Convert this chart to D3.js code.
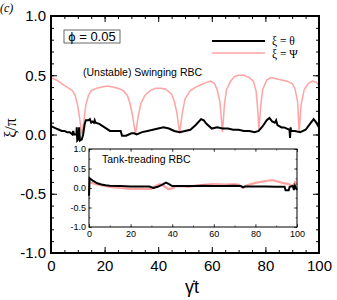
<!DOCTYPE html>
<html>
<head>
<meta charset="utf-8">
<script src="https://cdn.jsdelivr.net/npm/d3@7"></script>
<style>
  body { margin: 0; background: #fff; }
  svg text { font-family: "Liberation Sans", Arial, sans-serif; fill: #000; }
  .domain { display: none; }
  .tick line { stroke: #000; }
</style>
</head>
<body>
<div id="chart"></div>
<script>
var svgWidth = 337;
var svgHeight = 300;

// main panel: xi = theta (black), xi = Psi (pink)
var thetaT = [0, 1, 2, 3, 4, 5, 6, 7, 8, 8.3, 8.6, 9.5, 9.6, 9.8, 10.2, 10.5, 10.8, 11.5, 12, 12.5, 13, 14, 14.5, 15, 15.5, 16, 16.3, 16.6, 18, 20, 22, 24, 26, 26.5, 28, 29, 30, 31, 32, 34, 36, 38, 40, 42, 44, 46, 48, 50, 52, 54, 56, 57, 58, 60, 62, 64, 66, 68, 70, 72, 74, 76, 77.5, 79, 80.5, 81.5, 82.5, 83.5, 84, 84.5, 86, 87, 88, 89, 89.2, 89.4, 89.6, 91, 93, 95, 97, 98, 99, 100];
var thetaV = [0.07, 0.06, 0.05, 0.04, 0.03, 0.03, 0.02, 0.02, 0.0, 0.03, 0.0, 0.0, 0.06, -0.05, -0.04, 0.06, -0.05, -0.04, 0.0, 0.08, 0.12, 0.12, 0.13, 0.1, 0.11, 0.1, 0.12, 0.1, 0.09, 0.06, 0.03, 0.03, 0.03, -0.01, -0.01, 0.0, 0.01, 0.01, 0.0, 0.02, 0.03, 0.04, 0.05, 0.06, 0.05, 0.03, 0.02, 0.03, 0.04, 0.08, 0.13, 0.12, 0.09, 0.05, 0.06, 0.05, 0.05, 0.04, 0.04, 0.03, 0.03, 0.02, 0.03, 0.07, 0.12, 0.14, 0.11, 0.1, 0.12, 0.08, 0.06, 0.06, 0.05, 0.04, -0.03, 0.06, 0.03, 0.03, 0.02, 0.04, 0.1, 0.13, 0.1, 0.06];

var psiT = [0, 2, 4, 6, 8, 9, 10, 10.8, 11.5, 12.3, 13, 14, 15, 17, 19, 21, 23, 25, 27, 28.5, 29.5, 30.5, 31.5, 32.5, 33.5, 35, 37, 39, 41, 43, 45, 46, 47, 48, 49, 50, 52, 54, 56, 58, 59.5, 61, 62, 63, 64, 64.7, 65.5, 67, 68.5, 70, 72, 74, 75.5, 76.5, 77, 77.6, 78.3, 79, 80.5, 82, 84, 86, 88, 90, 91, 92, 92.6, 93.3, 94.5, 96, 97.5, 99, 100];
var psiV = [0.48, 0.46, 0.43, 0.4, 0.37, 0.33, 0.24, 0.12, 0.0, 0.12, 0.25, 0.33, 0.37, 0.39, 0.4, 0.41, 0.4, 0.39, 0.37, 0.33, 0.26, 0.15, 0.0, 0.15, 0.26, 0.33, 0.37, 0.39, 0.39, 0.38, 0.34, 0.28, 0.18, 0.01, 0.18, 0.3, 0.37, 0.4, 0.42, 0.44, 0.45, 0.43, 0.38, 0.28, 0.02, 0.25, 0.38, 0.45, 0.49, 0.5, 0.5, 0.48, 0.45, 0.37, 0.25, 0.04, 0.25, 0.38, 0.46, 0.48, 0.47, 0.46, 0.45, 0.43, 0.39, 0.28, 0.02, 0.25, 0.38, 0.43, 0.45, 0.44, 0.41];

// inset: tank-treading
var inThetaT = [0, 0.3, 2, 4, 6, 8, 10, 15, 20, 25, 29, 31, 33, 35, 37, 38.5, 40, 45, 50, 55, 60, 65, 70, 73, 74, 75, 80, 85, 90, 94, 94.5, 96, 96.5, 98, 98.5, 99, 100];
var inThetaV = [-0.2, 0.25, 0.18, 0.12, 0.09, 0.07, 0.06, 0.05, 0.04, 0.04, 0.04, 0.0, 0.03, 0.08, 0.14, 0.1, 0.05, 0.05, 0.05, 0.06, 0.05, 0.05, 0.06, 0.05, 0.02, 0.04, 0.04, 0.04, 0.03, 0.03, -0.06, -0.06, 0.03, 0.05, -0.05, 0.06, -0.05];
var inPsiT = [0, 2, 5, 10, 15, 20, 25, 30, 32, 34, 36, 38, 40, 42, 45, 48, 50, 55, 60, 65, 70, 72, 74, 76, 80, 85, 88, 90, 93, 96, 98, 99, 100];
var inPsiV = [0.15, 0.12, 0.08, 0.03, 0.0, -0.02, -0.02, -0.02, 0.05, 0.1, 0.05, -0.03, -0.01, 0.05, 0.05, 0.03, 0.05, 0.08, 0.1, 0.09, 0.1, 0.08, 0.0, 0.07, 0.13, 0.18, 0.2, 0.18, 0.13, 0.1, 0.05, 0.15, 0.08];

var xMajor = [0, 20, 40, 60, 80, 100];
var yMajor = [-1.0, -0.5, 0.0, 0.5, 1.0];

var svg = d3.select("#chart")
    .append("svg")
    .attr("width", svgWidth)
    .attr("height", svgHeight);

var pink = "#ffa3a3";

function zip(ts, vs) {
    return ts.map(function(t, i) { return [t, vs[i]]; });
}

// plain hyphen for negatives, like the original plot
var fmtY = function(d) { return d3.format(".1f")(d).replace("\u2212", "-"); };

// draws a framed panel with inward ticks on all four sides
function drawFrame(x, y, opt) {
    var g = svg.append("g");
    var xMinor = d3.range(0, 100.01, opt.xMinorStep);
    var yMinor = d3.range(-1, 1.001, opt.yMinorStep).map(function(v) { return Math.round(v * 100) / 100; });
    var x0 = x.range()[0], x1 = x.range()[1];
    var y0 = y.range()[0], y1 = y.range()[1];

    g.append("g").attr("transform", "translate(0," + y0 + ")")
        .call(d3.axisBottom(x).tickValues(xMinor).tickSize(-opt.minor).tickFormat(""));
    g.append("g").attr("transform", "translate(0," + y1 + ")")
        .call(d3.axisTop(x).tickValues(xMinor).tickSize(-opt.minor).tickFormat(""));
    g.append("g").attr("transform", "translate(" + x0 + ",0)")
        .call(d3.axisLeft(y).tickValues(yMinor).tickSize(-opt.minor).tickFormat(""));
    g.append("g").attr("transform", "translate(" + x1 + ",0)")
        .call(d3.axisRight(y).tickValues(yMinor).tickSize(-opt.minor).tickFormat(""));

    var bx = g.append("g").attr("transform", "translate(0," + y0 + ")")
        .call(d3.axisBottom(x).tickValues(xMajor).tickSize(-opt.major).tickPadding(opt.padX).tickFormat(d3.format("d")));
    bx.selectAll("text").style("font-size", opt.font + "px");
    g.append("g").attr("transform", "translate(0," + y1 + ")")
        .call(d3.axisTop(x).tickValues(xMajor).tickSize(-opt.major).tickFormat(""));
    var ly = g.append("g").attr("transform", "translate(" + x0 + ",0)")
        .call(d3.axisLeft(y).tickValues(yMajor).tickSize(-opt.major).tickPadding(opt.padY).tickFormat(fmtY));
    ly.selectAll("text").style("font-size", opt.font + "px");
    g.append("g").attr("transform", "translate(" + x1 + ",0)")
        .call(d3.axisRight(y).tickValues(yMajor).tickSize(-opt.major).tickFormat(""));

    g.selectAll(".tick line").attr("stroke-width", opt.tickWidth);

    g.append("rect")
        .attr("x", x0).attr("y", y1)
        .attr("width", x1 - x0).attr("height", y0 - y1)
        .attr("fill", "none")
        .attr("stroke", "#000")
        .attr("stroke-width", opt.frame);
    return g;
}

// main panel
var xScale = d3.scaleLinear().domain([0, 100]).range([51, 319]);
var yScale = d3.scaleLinear().domain([-1, 1]).range([253, 16]);

var line = d3.line()
    .x(function(d) { return xScale(d[0]); })
    .y(function(d) { return yScale(d[1]); });

svg.append("path")
    .datum(zip(psiT, psiV))
    .attr("d", line)
    .attr("fill", "none")
    .attr("stroke", pink)
    .attr("stroke-width", 1.5);

svg.append("path")
    .datum(zip(thetaT, thetaV))
    .attr("d", line)
    .attr("fill", "none")
    .attr("stroke", "#000")
    .attr("stroke-width", 2);

drawFrame(xScale, yScale, {xMinorStep: 5, yMinorStep: 0.1, major: 6, minor: 3, padX: 7, padY: 5, font: 15, tickWidth: 1, frame: 2});

// inset panel
var xIn = d3.scaleLinear().domain([0, 100]).range([89, 297]);
var yIn = d3.scaleLinear().domain([-1, 1]).range([227, 149]);

svg.append("rect")
    .attr("x", 89).attr("y", 149)
    .attr("width", 208).attr("height", 78)
    .attr("fill", "#fff");

var lineIn = d3.line()
    .x(function(d) { return xIn(d[0]); })
    .y(function(d) { return yIn(d[1]); });

svg.append("path")
    .datum(zip(inPsiT, inPsiV))
    .attr("d", lineIn)
    .attr("fill", "none")
    .attr("stroke", pink)
    .attr("stroke-width", 2.2);

svg.append("path")
    .datum(zip(inThetaT, inThetaV))
    .attr("d", lineIn)
    .attr("fill", "none")
    .attr("stroke", "#000")
    .attr("stroke-width", 2);

var inset = drawFrame(xIn, yIn, {xMinorStep: 10, yMinorStep: 0.25, major: 3, minor: 1.5, padX: 4, padY: 3, font: 9, tickWidth: 0.6, frame: 1});
inset.selectAll(".tick line").attr("stroke", "#555");

svg.append("text")
    .attr("x", 102).attr("y", 163)
    .style("font-size", "10.5px")
    .text("Tank-treading RBC");

// annotations
svg.append("text")
    .attr("x", 83).attr("y", 76)
    .style("font-size", "10.5px")
    .text("(Unstable) Swinging RBC");

svg.append("rect")
    .attr("x", 64).attr("y", 30)
    .attr("width", 56).attr("height", 13)
    .attr("fill", "#fff")
    .attr("stroke", "#444")
    .attr("stroke-width", 0.8);
svg.append("text")
    .attr("x", 92).attr("y", 41)
    .attr("text-anchor", "middle")
    .style("font-size", "13px")
    .text("\u03d5 = 0.05");

// legend
var legend = svg.append("g");
legend.append("line")
    .attr("x1", 212).attr("x2", 265).attr("y1", 41).attr("y2", 41)
    .attr("stroke", "#000").attr("stroke-width", 2);
legend.append("line")
    .attr("x1", 212).attr("x2", 265).attr("y1", 53).attr("y2", 53)
    .attr("stroke", pink).attr("stroke-width", 1.5);
legend.append("text")
    .attr("x", 272).attr("y", 44.5)
    .style("font-family", "Liberation Serif, serif")
    .style("font-size", "11.5px")
    .text("\u03be = \u03b8");
legend.append("text")
    .attr("x", 272).attr("y", 58)
    .style("font-family", "Liberation Serif, serif")
    .style("font-size", "11.5px")
    .text("\u03be = \u03a8");

// axis titles and panel tag
svg.append("text")
    .attr("transform", "translate(16,128) rotate(-90)")
    .attr("text-anchor", "middle")
    .style("font-family", "Liberation Serif, serif")
    .style("font-size", "16px")
    .text("\u03be/\u03c0");

svg.append("text")
    .attr("x", 192).attr("y", 293)
    .attr("text-anchor", "middle")
    .style("font-size", "18px")
    .text("\u03b3\u0307t");

svg.append("text")
    .attr("x", 0).attr("y", 12)
    .style("font-family", "Liberation Serif, serif")
    .style("font-style", "italic")
    .style("font-size", "12px")
    .text("(c)");
</script>
</body>
</html>
